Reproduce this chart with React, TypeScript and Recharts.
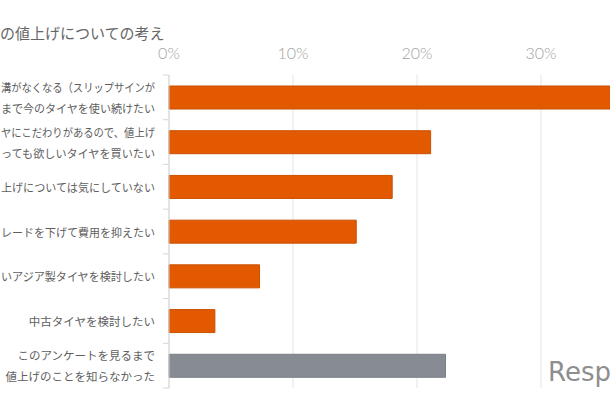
import { Bar, BarChart, CartesianGrid, Cell, XAxis, YAxis } from "recharts";

// visible part of the (cropped) labels, one string per line
const labels = [
  ["溝がなくなる（スリップサインが", "まで今のタイヤを使い続けたい"],
  ["ヤにこだわりがあるので、値上げ", "っても欲しいタイヤを買いたい"],
  ["上げについては気にしていない"],
  ["レードを下げて費用を抑えたい"],
  ["いアジア製タイヤを検討したい"],
  ["中古タイヤを検討したい"],
  ["このアンケートを見るまで", "値上げのことを知らなかった"],
];
const shares = [38, 21.1, 18.0, 15.1, 7.3, 3.7, 22.3];
const pctTicks = [0, 10, 20, 30];
const title = "の値上げについての考え";

const rows = labels.map((lines, i) => ({ key: String(i), lines, share: shares[i] }));

const ORANGE = "#e25900";
const GRAY = "#878c94";
const PLOT_LEFT = 169;
const PLOT_TOP = 75;
const PLOT_BOTTOM = 388;
const BAND = (PLOT_BOTTOM - PLOT_TOP) / rows.length;
const LABEL_RIGHT = 155;
const LABEL_FONT = 11.5;

function CategoryTick({ y, payload, index }: any) {
  const row = rows[Number(payload.value)];
  const lines = row ? row.lines : [];
  const off = lines.length > 1 ? [-10.5, 10.5] : [0];
  return (
    <g>
      <line x1={PLOT_LEFT - 6} x2={PLOT_LEFT} y1={y - BAND / 2} y2={y - BAND / 2} stroke="#d6d6d6" />
      {index === rows.length - 1 && (
        <line x1={PLOT_LEFT - 6} x2={PLOT_LEFT} y1={y + BAND / 2} y2={y + BAND / 2} stroke="#d6d6d6" />
      )}
      {lines.map((t: string, i: number) => {
        // squeeze the long (cropped) lines so they stay inside the picture
        const tooWide = t.length * LABEL_FONT > LABEL_RIGHT - 1;
        return (
          <text
            key={i}
            x={LABEL_RIGHT}
            y={y + off[i]}
            textAnchor="end"
            dominantBaseline="central"
            fontSize={LABEL_FONT}
            fill="#5e5e5e"
            {...(tooWide ? { textLength: LABEL_RIGHT - 1, lengthAdjust: "spacingAndGlyphs" } : {})}
          >
            {t}
          </text>
        );
      })}
    </g>
  );
}

function PctTick({ x, payload }: any) {
  return (
    <text
      x={x}
      y={59}
      textAnchor="middle"
      fontSize={16}
      fontFamily="Lato, sans-serif"
      fontWeight={300}
      fill="#a3a3a3"
    >
      {payload.value}%
    </text>
  );
}

export default function App() {
  return (
    <div
      style={{
        position: "absolute",
        left: 0,
        top: 0,
        width: 610,
        height: 400,
        overflow: "hidden",
        background: "#fff",
        fontFamily: "'Noto Sans CJK JP', sans-serif",
      }}
    >
      <div style={{ position: "absolute", left: 0, top: 22, fontSize: 15, color: "#666", whiteSpace: "nowrap" }}>
        {title}
      </div>
      <BarChart
        width={700}
        height={400}
        layout="vertical"
        data={rows}
        margin={{ top: 0, right: 35, bottom: 400 - PLOT_BOTTOM, left: 0 }}
      >
        <CartesianGrid horizontal={false} stroke="#e4e4e4" />
        <XAxis
          type="number"
          orientation="top"
          domain={[0, 40]}
          ticks={pctTicks}
          height={PLOT_TOP}
          axisLine={false}
          tickLine={false}
          tick={<PctTick />}
        />
        <YAxis
          type="category"
          dataKey="key"
          width={PLOT_LEFT}
          interval={0}
          axisLine={{ stroke: "#d6d6d6" }}
          tickLine={false}
          tick={<CategoryTick />}
        />
        <Bar dataKey="share" barSize={23} isAnimationActive={false}>
          {rows.map((r, i) => (
            <Cell
              key={r.key}
              fill={i === rows.length - 1 ? GRAY : ORANGE}
              stroke={i === rows.length - 1 ? "#7a7f86" : "#c95000"}
            />
          ))}
        </Bar>
      </BarChart>
      <div
        style={{
          position: "absolute",
          left: 548,
          top: 357,
          fontSize: 26,
          color: "#8e8e8e",
          fontFamily: "'DejaVu Sans', sans-serif",
          whiteSpace: "nowrap",
        }}
      >
        Resp
      </div>
    </div>
  );
}
